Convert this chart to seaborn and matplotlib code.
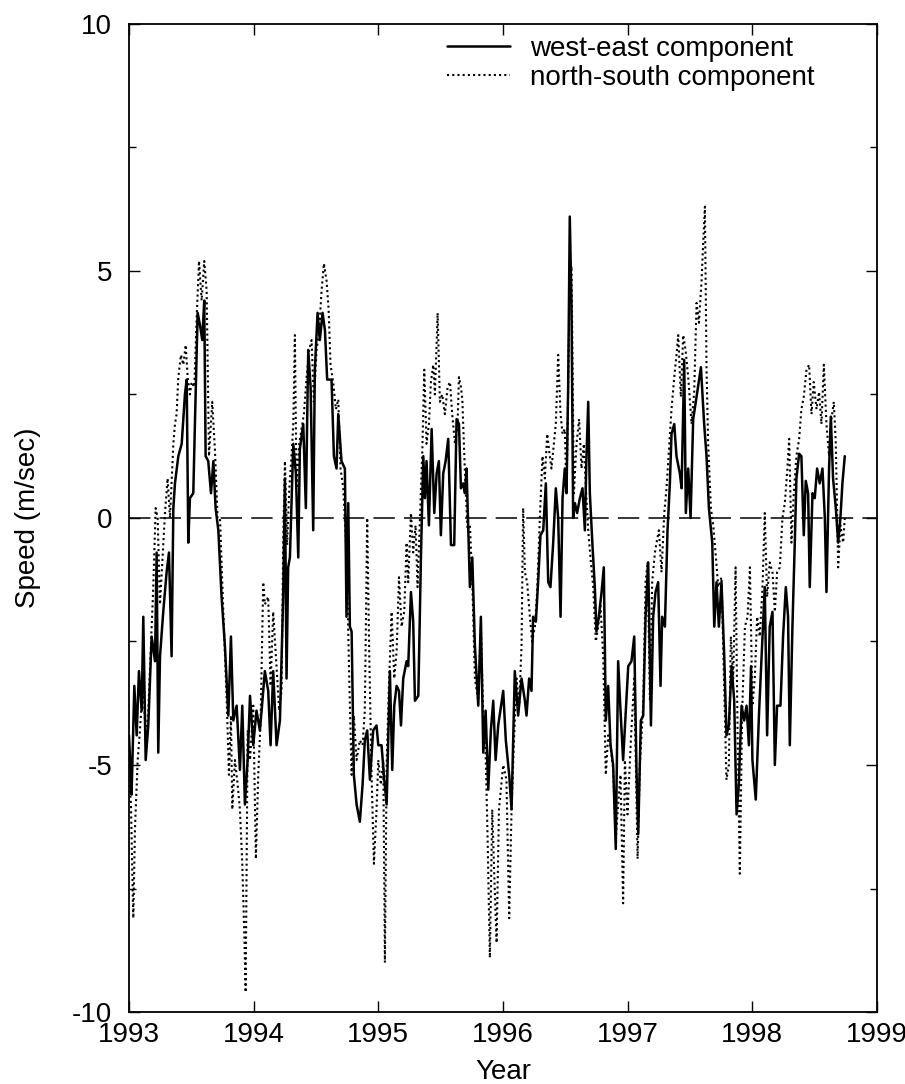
import numpy as np
import pandas as pd
import seaborn as sns
import matplotlib.pyplot as plt

# west-east component (solid)
we_year = [
    1993.000, 1993.011, 1993.021, 1993.043, 1993.062, 1993.080, 1993.102, 1993.115, 1993.134, 1993.155,
    1993.182, 1993.209, 1993.222, 1993.235, 1993.249, 1993.275, 1993.302, 1993.321, 1993.342, 1993.356,
    1993.369, 1993.396, 1993.423, 1993.449, 1993.463, 1993.476, 1993.489, 1993.516, 1993.529, 1993.551,
    1993.570, 1993.588, 1993.604, 1993.615, 1993.636, 1993.658, 1993.677, 1993.695, 1993.717, 1993.743,
    1993.770, 1993.797, 1993.818, 1993.837, 1993.864, 1993.890, 1993.909, 1993.930, 1993.952, 1993.971,
    1993.997, 1994.023, 1994.050, 1994.064, 1994.090, 1994.117, 1994.136, 1994.157, 1994.184, 1994.211,
    1994.237, 1994.251, 1994.264, 1994.277, 1994.291, 1994.318, 1994.339, 1994.358, 1994.371, 1994.398,
    1994.419, 1994.438, 1994.457, 1994.478, 1994.491, 1994.513, 1994.531, 1994.553, 1994.572, 1994.590,
    1994.625, 1994.644, 1994.665, 1994.679, 1994.705, 1994.732, 1994.745, 1994.759, 1994.772, 1994.786,
    1994.804, 1994.826, 1994.852, 1994.874, 1994.892, 1994.911, 1994.933, 1994.959, 1994.986,
    1995.000, 1995.026, 1995.048, 1995.067, 1995.093, 1995.112, 1995.128, 1995.147, 1995.166, 1995.182,
    1995.200, 1995.227, 1995.240, 1995.262, 1995.280, 1995.294, 1995.321, 1995.342, 1995.361, 1995.374,
    1995.387, 1995.406, 1995.428, 1995.449, 1995.468, 1995.486, 1995.502, 1995.521, 1995.540, 1995.561,
    1995.583, 1995.609, 1995.628, 1995.647, 1995.663, 1995.682, 1995.695, 1995.708, 1995.722, 1995.735,
    1995.754, 1995.775, 1995.802, 1995.823, 1995.842, 1995.861, 1995.882, 1995.903, 1995.922, 1995.941,
    1995.962,
    1996.002, 1996.023, 1996.050, 1996.069, 1996.095, 1996.122, 1996.149, 1996.176, 1996.189, 1996.210,
    1996.229, 1996.242, 1996.264, 1996.282, 1996.301, 1996.323, 1996.344, 1996.363, 1996.381, 1996.403,
    1996.424, 1996.443, 1996.462, 1996.478, 1996.496, 1996.510, 1996.523, 1996.536, 1996.550, 1996.563,
    1996.577, 1996.595, 1996.617, 1996.638, 1996.657, 1996.670, 1996.684, 1996.697, 1996.718, 1996.737,
    1996.750, 1996.769, 1996.791, 1996.809, 1996.825, 1996.844, 1996.863, 1996.884, 1996.905, 1996.924,
    1996.943, 1996.964,
    1997.005, 1997.031, 1997.053, 1997.072, 1997.085, 1997.106, 1997.125, 1997.144, 1997.165, 1997.187,
    1997.205, 1997.224, 1997.245, 1997.264, 1997.277, 1997.299, 1997.320, 1997.339, 1997.352, 1997.374,
    1997.392, 1997.419, 1997.433, 1997.454, 1997.467, 1997.486, 1997.505, 1997.526, 1997.553, 1997.588,
    1997.614, 1997.633, 1997.652, 1997.679, 1997.695, 1997.713, 1997.732, 1997.753, 1997.775, 1997.793,
    1997.812, 1997.834, 1997.855, 1997.874, 1997.892, 1997.914, 1997.935, 1997.954, 1997.973,
    1997.990, 1998.001, 1998.028, 1998.055, 1998.082, 1998.100, 1998.119, 1998.140, 1998.162, 1998.181,
    1998.199, 1998.226, 1998.247, 1998.269, 1998.287, 1998.301, 1998.322, 1998.341, 1998.354, 1998.376,
    1998.394, 1998.413, 1998.429, 1998.448, 1998.461, 1998.483, 1998.501, 1998.520, 1998.541, 1998.563,
    1998.582, 1998.595, 1998.616, 1998.630, 1998.648, 1998.670, 1998.689, 1998.707, 1998.723, 1998.742,
]
we_speed = [
    -4.4, -5.0, -5.6, -3.4, -4.4, -3.1, -3.9, -2.0, -4.9, -4.2,
    -2.4, -2.9, -0.7, -4.75, -2.8, -1.9, -1.1, -0.7, -2.8, 0.2,
    0.7, 1.25, 1.5, 2.5, 2.8, -0.5, 0.4, 0.5, 1.9, 4.15,
    3.9, 3.6, 4.4, 1.25, 1.15, 0.5, 1.15, 0.2, -0.25, -1.6,
    -2.6, -4.0, -2.4, -4.1, -3.8, -5.1, -3.8, -5.8, -4.9, -3.6,
    -4.6, -3.9, -4.3, -3.9, -3.1, -3.5, -4.6, -3.1, -4.6, -4.1,
    -1.6, 0.8, -3.25, -1.0, -0.8, 1.5, 0.9, -0.8, 1.4, 1.9,
    0.2, 3.4, 2.65, -0.25, 3.0, 4.15, 3.6, 4.15, 3.8, 2.8,
    2.8, 1.25, 1.0, 2.1, 1.15, 1.0, -2.0, 0.3, -2.2, -2.3,
    -5.2, -5.8, -6.15, -5.4, -4.5, -4.3, -5.3, -4.3, -4.2,
    -4.6, -4.6, -5.3, -5.8, -3.1, -5.1, -3.8, -3.4, -3.5, -4.2,
    -3.25, -2.9, -3.0, -1.5, -2.1, -3.7, -3.6, -0.8, 1.25, 0.4,
    1.15, -0.15, 1.8, 0.1, 0.9, 1.15, -0.35, 0.9, 1.15, 1.6,
    -0.55, -0.55, 2.0, 1.9, 0.6, 0.7, 0.5, 1.0, -0.25, -1.4,
    -0.8, -2.6, -3.8, -2.0, -4.75, -3.9, -5.5, -4.3, -3.7, -4.9,
    -4.2,
    -3.5, -4.5, -5.2, -5.9, -3.1, -4.0, -3.25, -3.7, -4.0, -3.25,
    -3.5, -2.0, -2.1, -1.3, -0.35, -0.25, 0.7, -1.3, -1.4, -0.5,
    0.6, 0.0, -2.0, 0.4, 1.0, 0.5, 2.65, 6.1, 4.3, 0.0,
    0.3, 0.1, 0.4, 0.6, -0.25, 1.25, 2.35, 0.5, -0.55, -1.4,
    -2.3, -2.0, -1.5, -1.0, -4.1, -3.4, -4.6, -5.0, -6.7, -2.9,
    -3.9, -4.9,
    -3.0, -2.9, -2.4, -5.2, -6.4, -4.1, -4.0, -2.0, -0.9, -4.2,
    -2.0, -1.5, -1.3, -3.4, -2.0, -2.2, -0.25, 0.7, 1.7, 1.9,
    1.25, 0.9, 0.6, 3.2, 0.1, 1.0, 0.0, 2.0, 2.45, 3.05,
    1.9, 1.25, 0.2, -0.5, -2.2, -1.3, -2.2, -1.3, -2.8, -4.4,
    -4.2, -3.0, -3.7, -6.0, -5.4, -3.8, -4.1, -3.8, -4.6,
    -3.0, -4.9, -5.7, -3.9, -2.4, -1.4, -4.4, -2.2, -1.9, -5.0,
    -3.8, -3.8, -2.4, -1.4, -2.0, -4.6, -2.2, -0.5, 0.8, 1.3,
    1.25, -0.35, 0.75, 0.5, -1.4, 0.5, 0.4, 1.0, 0.7, 1.0,
    0.0, -1.5, 1.0, 2.05, 0.8, 0.2, -0.5, 0.0, 0.7, 1.25,
]

# north-south component (dotted)
ns_year = [
    1993.000, 1993.016, 1993.027, 1993.035, 1993.048, 1993.070, 1993.088, 1993.115, 1993.134, 1993.155,
    1993.177, 1993.195, 1993.214, 1993.230, 1993.249, 1993.267, 1993.289, 1993.310, 1993.329, 1993.356,
    1993.369, 1993.382, 1993.396, 1993.417, 1993.436, 1993.455, 1993.471, 1993.489, 1993.503, 1993.524,
    1993.543, 1993.562, 1993.583, 1993.604, 1993.623, 1993.642, 1993.668, 1993.690, 1993.711, 1993.730,
    1993.757, 1993.784, 1993.802, 1993.818, 1993.829, 1993.850, 1993.872, 1993.890, 1993.909, 1993.925,
    1993.936, 1993.952, 1993.971,
    1993.997, 1994.018, 1994.037, 1994.056, 1994.077, 1994.090, 1994.117, 1994.136, 1994.157, 1994.179,
    1994.205, 1994.224, 1994.237, 1994.251, 1994.269, 1994.286, 1994.304, 1994.318, 1994.331, 1994.344,
    1994.366, 1994.384, 1994.403, 1994.425, 1994.446, 1994.465, 1994.483, 1994.505, 1994.526, 1994.545,
    1994.564, 1994.585, 1994.601, 1994.617, 1994.638, 1994.660, 1994.679, 1994.697, 1994.719, 1994.745,
    1994.767, 1994.786, 1994.804, 1994.826, 1994.852, 1994.874, 1994.892, 1994.911, 1994.927, 1994.946,
    1994.965, 1994.986,
    1995.000, 1995.021, 1995.040, 1995.053, 1995.067, 1995.085, 1995.107, 1995.128, 1995.147, 1995.166,
    1995.187, 1995.208, 1995.227, 1995.240, 1995.262, 1995.280, 1995.299, 1995.315, 1995.334, 1995.353,
    1995.369, 1995.387, 1995.406, 1995.422, 1995.441, 1995.454, 1995.476, 1995.494, 1995.513, 1995.534,
    1995.556, 1995.575, 1995.593, 1995.615, 1995.636, 1995.647, 1995.663, 1995.674, 1995.695, 1995.716,
    1995.735, 1995.754, 1995.775, 1995.802, 1995.823, 1995.842, 1995.861, 1995.877, 1995.895, 1995.914,
    1995.930, 1995.949, 1995.968,
    1996.002, 1996.028, 1996.050, 1996.069, 1996.087, 1996.109, 1996.130, 1996.149, 1996.162, 1996.176,
    1996.194, 1996.216, 1996.234, 1996.256, 1996.274, 1996.296, 1996.317, 1996.336, 1996.355, 1996.371,
    1996.389, 1996.408, 1996.424, 1996.443, 1996.462, 1996.478, 1996.496, 1996.510, 1996.536, 1996.550,
    1996.569, 1996.590, 1996.611, 1996.630, 1996.649, 1996.665, 1996.684, 1996.702, 1996.724, 1996.745,
    1996.764, 1996.782, 1996.804, 1996.825, 1996.844, 1996.863, 1996.884, 1996.905, 1996.924, 1996.943,
    1996.964,
    1996.978, 1996.999, 1997.026, 1997.053, 1997.080, 1997.098, 1997.125, 1997.144, 1997.160, 1997.179,
    1997.197, 1997.219, 1997.232, 1997.251, 1997.272, 1997.294, 1997.312, 1997.331, 1997.352, 1997.374,
    1997.392, 1997.406, 1997.427, 1997.446, 1997.465, 1997.486, 1997.513, 1997.534, 1997.553, 1997.572,
    1997.593, 1997.606, 1997.620, 1997.633, 1997.646, 1997.668, 1997.687, 1997.705, 1997.727, 1997.753,
    1997.775, 1997.793, 1997.812, 1997.828, 1997.847, 1997.866, 1997.882, 1997.900, 1997.919, 1997.941,
    1997.962, 1997.981,
    1998.001, 1998.020, 1998.039, 1998.060, 1998.082, 1998.100, 1998.119, 1998.140, 1998.162, 1998.181,
    1998.199, 1998.221, 1998.242, 1998.261, 1998.279, 1998.296, 1998.314, 1998.333, 1998.354, 1998.376,
    1998.394, 1998.413, 1998.435, 1998.456, 1998.475, 1998.493, 1998.515, 1998.536, 1998.555, 1998.574,
    1998.595, 1998.616, 1998.635, 1998.654, 1998.670, 1998.689, 1998.707, 1998.729, 1998.742,
]
ns_speed = [
    -5.2, -5.8, -7.2, -8.1, -6.3, -4.9, -4.3, -3.25, -4.5, -3.9,
    -2.5, -1.4, 0.2, 0.0, -1.75, -0.9, 0.1, 0.8, 0.0, 1.5,
    1.9, 2.1, 2.85, 3.3, 3.1, 3.5, 2.85, 2.5, 2.75, 2.65,
    4.05, 5.2, 4.4, 5.2, 4.6, 1.25, 2.35, 1.35, 0.0, 0.0,
    -1.9, -3.7, -5.2, -4.0, -5.9, -4.9, -5.4, -5.9, -7.0, -8.4,
    -9.6, -4.3, -4.9,
    -3.8, -6.9, -5.2, -4.1, -1.3, -1.75, -1.6, -3.4, -1.9, -2.8,
    -3.9, -3.5, -0.5, 1.15, -0.55, 0.6, 1.25, 1.9, 3.7, 0.6,
    1.5, 1.8, 2.1, 2.85, 3.4, 3.6, 2.35, 3.4, 3.8, 4.6,
    5.15, 4.8, 4.25, 3.1, 2.75, 2.2, 2.4, 1.0, 0.6, -0.7,
    -3.25, -5.2, -4.0, -4.9, -4.5, -4.6, -3.9, 0.0, -2.7, -5.2,
    -7.0, -5.9,
    -4.9, -5.4, -4.9, -9.0, -5.0, -3.4, -1.9, -3.25, -2.7, -1.2,
    -2.2, -1.9, -0.5, -1.3, 0.1, -0.7, -0.15, -1.4, 0.0, 1.35,
    3.0, 1.5, 1.9, 2.75, 3.1, 2.5, 4.15, 2.35, 2.5, 2.1,
    2.65, 2.75, 2.1, 1.5, 1.9, 2.85, 2.65, 2.4, 0.9, -0.25,
    -0.15, -1.3, -3.25, -3.7, -2.2, -4.0, -4.75, -6.5, -8.9, -5.9,
    -7.2, -8.6, -5.9,
    -5.0, -5.3, -8.1, -5.9, -4.6, -3.25, -3.8, -2.6, 0.2, -1.1,
    -1.3, -2.0, -2.5, -2.2, -1.5, 0.0, 1.25, 0.8, 1.7, 1.35,
    1.0, 1.5, 1.9, 3.3, 2.1, 1.7, 1.8, 0.5, 4.8, 5.1,
    0.5, 1.5, 2.0, 1.0, 1.5, 0.6, -0.25, -0.8, -1.4, -2.5,
    -2.2, -1.75, -2.8, -5.2, -4.4, -4.6, -5.1, -6.5, -5.8, -5.2,
    -7.8,
    -4.9, -6.0, -4.5, -3.25, -6.9, -5.0, -3.8, -1.3, -0.9, -3.7,
    -1.3, -0.7, -0.5, -0.25, -1.1, 0.1, 0.6, 1.35, 2.2, 2.85,
    3.3, 3.7, 2.45, 3.7, 3.4, 2.85, 1.9, 2.55, 4.35, 3.95,
    4.8, 5.55, 6.3, 3.0, 1.5, 0.2, -0.15, -0.7, -1.4, -1.2,
    -3.5, -5.3, -5.0, -2.4, -3.25, -1.0, -4.3, -7.2, -3.9, -2.2,
    -2.0, -1.0,
    -3.8, -3.25, -2.0, -2.4, -1.4, 0.1, -1.6, -0.9, -1.1, -1.9,
    -1.1, -1.0, 0.0, 0.3, 0.9, 1.6, -0.5, 0.5, 1.25, 1.6,
    2.2, 2.45, 3.0, 3.1, 2.1, 2.75, 2.2, 2.55, 1.9, 3.1,
    1.9, 1.25, 2.0, 2.35, 1.5, -1.0, -0.15, -0.5, 0.0,
]

year_ticks = [1993, 1994, 1995, 1996, 1997, 1998, 1999]
speed_ticks = [-10, -5, 0, 5, 10]

we_df = pd.DataFrame({"Year": we_year, "Speed": we_speed})
ns_df = pd.DataFrame({"Year": ns_year, "Speed": ns_speed})

sns.set_style("ticks")
plt.rcParams['font.family'] = ['Liberation Sans', 'DejaVu Sans']
plt.rcParams['axes.unicode_minus'] = False
plt.rcParams['text.color'] = 'black'
plt.rcParams['axes.labelcolor'] = 'black'
plt.rcParams['xtick.color'] = 'black'
plt.rcParams['ytick.color'] = 'black'

fig = plt.figure(figsize=(9.05, 10.84), dpi=100)
ax = fig.add_axes([0.1425, 0.0664, 0.8265, 0.9116])

ax.axhline(0, color="black", lw=1.1, dashes=(14, 6), zorder=1)
sns.lineplot(data=ns_df, x="Year", y="Speed", ax=ax, color="black", lw=1.5,
             linestyle=(0, (1, 1.5)), label="north-south component", sort=False)
sns.lineplot(data=we_df, x="Year", y="Speed", ax=ax, color="black", lw=1.8,
             label="west-east component", sort=False)

ax.set_xlim(1993, 1999)
ax.set_ylim(-10, 10)
ax.set_xticks(year_ticks)
ax.set_yticks(speed_ticks)
ax.set_yticks([-7.5, -2.5, 2.5, 7.5], minor=True)
ax.tick_params(axis="both", which="major", direction="in", length=8, width=1,
               top=True, right=True, labelsize=20)
ax.tick_params(axis="x", which="major", pad=7)
ax.tick_params(axis="y", which="major", pad=12)
ax.tick_params(axis="y", which="minor", direction="in", length=5, width=1, right=True)
for s in ax.spines.values():
    s.set_linewidth(1.3)
    s.set_color("black")

ax.set_xlabel("Year", fontsize=20, labelpad=8)
ax.set_ylabel("Speed (m/sec)", fontsize=20, labelpad=22)

h, l = ax.get_legend_handles_labels()
ax.legend(h[::-1], l[::-1], loc="upper left", bbox_to_anchor=(0.392, 1.013), frameon=False,
          fontsize=20, handlelength=2.27, handletextpad=0.7, labelspacing=0.1)

fig.savefig("out.png", dpi=100)
